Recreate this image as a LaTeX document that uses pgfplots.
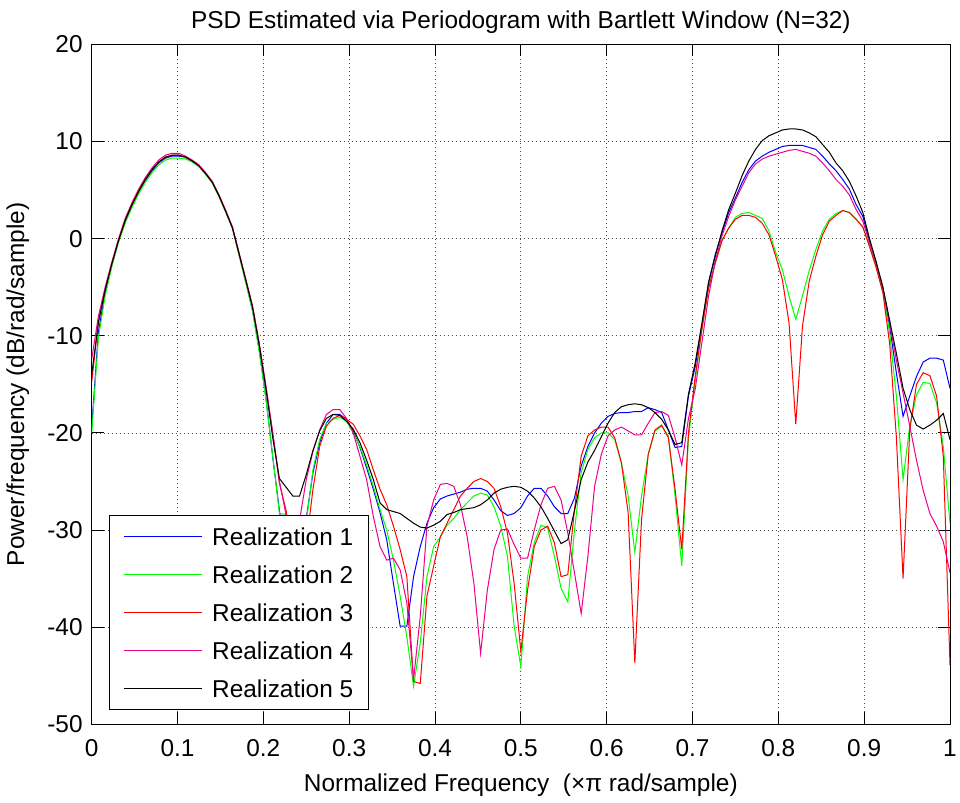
\documentclass[border=0pt]{standalone}
\usepackage{fontspec}
\setmainfont{Liberation Sans}
\usepackage{pgfplots}
\pgfplotsset{compat=1.18}
\usepackage{pgfplotstable}

\newcommand\mfont{\fontsize{12.2}{14.6}\selectfont}
% legend key: a coloured line sample followed by the entry text
\newcommand\key[2]{\textcolor{#1}{\rule[4.25pt]{39pt}{0.5pt}}\hspace{5pt}#2}

% PSD estimates (dB/rad/sample) on the grid f = k/128 (x pi rad/sample)
% columns: k, realizations 1..5
\pgfplotstableread{
k B G R M K
0 -19.5 -20.0 -14.8 -12.4 -14.0
1 -9.6 -10.2 -8.6 -8.0 -8.6
2 -5.6 -5.9 -5.3 -5.0 -5.3
3 -2.7 -2.9 -2.6 -2.4 -2.6
4 -0.2 -0.4 -0.2 0.0 -0.2
5 1.8 1.6 1.9 2.1 1.9
6 3.4 3.2 3.5 3.7 3.5
7 4.8 4.6 4.9 5.1 4.9
8 6.0 5.8 6.1 6.3 6.1
9 7.0 6.8 7.1 7.3 7.1
10 7.8 7.6 7.9 8.1 7.9
11 8.3 8.1 8.4 8.6 8.4
12 8.5 8.3 8.6 8.8 8.6
13 8.5 8.3 8.6 8.8 8.6
14 8.4 8.2 8.4 8.5 8.4
15 8.0 7.9 8.0 8.1 8.0
16 7.5 7.4 7.5 7.6 7.5
17 6.7 6.6 6.7 6.8 6.7
18 5.8 5.7 5.8 5.9 5.8
19 4.4 4.3 4.4 4.5 4.4
20 2.8 2.7 2.8 2.9 2.8
21 1.1 1.0 1.1 1.2 1.1
22 -1.7 -1.8 -1.6 -1.5 -1.6
23 -4.5 -4.6 -4.3 -4.2 -4.3
24 -7.4 -7.5 -7.0 -7.0 -7.1
25 -11.5 -11.7 -10.9 -10.8 -11.0
26 -16.5 -16.6 -15.5 -15.2 -15.5
27 -22.5 -22.4 -20.0 -20.0 -20.5
28 -28.0 -28.3 -25.2 -25.0 -24.7
29 -33.0 -28.4 -28.0 -28.5 -25.6
30 -38.0 -34.0 -33.0 -33.0 -26.5
31 -36.0 -36.0 -36.0 -29.0 -26.5
32 -28.8 -29.2 -31.5 -24.8 -24.3
33 -24.1 -23.8 -25.8 -21.9 -21.8
34 -21.0 -20.7 -21.4 -19.7 -19.8
35 -19.0 -19.0 -19.3 -18.1 -18.5
36 -18.1 -18.6 -18.5 -17.6 -18.1
37 -18.1 -18.4 -18.2 -17.6 -18.2
38 -18.6 -18.8 -18.6 -18.5 -18.8
39 -19.8 -20.0 -19.1 -20.0 -19.6
40 -21.5 -21.4 -20.3 -22.4 -21.0
41 -23.6 -23.3 -21.7 -24.8 -22.8
42 -25.8 -25.5 -23.8 -28.6 -24.8
43 -28.2 -27.9 -25.8 -31.7 -27.2
44 -31.0 -30.0 -27.4 -33.1 -27.9
45 -35.5 -33.1 -29.6 -32.9 -28.1
46 -39.9 -36.8 -32.0 -34.1 -28.3
47 -39.9 -41.0 -34.8 -37.5 -28.8
48 -34.8 -46.1 -45.6 -45.4 -29.3
49 -31.7 -41.6 -45.8 -38.9 -29.7
50 -29.3 -34.8 -36.8 -29.6 -29.8
51 -27.7 -31.7 -33.7 -26.9 -29.5
52 -26.8 -30.7 -30.7 -25.3 -29.1
53 -26.5 -29.5 -29.3 -25.2 -28.4
54 -26.3 -28.8 -27.9 -25.5 -28.2
55 -26.1 -27.9 -26.5 -27.4 -27.9
56 -25.8 -27.2 -25.7 -30.7 -27.8
57 -25.7 -26.5 -25.0 -35.5 -27.7
58 -25.7 -26.2 -24.7 -42.7 -27.4
59 -26.0 -26.4 -25.0 -36.2 -26.9
60 -26.9 -27.6 -25.7 -32.0 -26.2
61 -28.0 -29.6 -27.6 -30.0 -25.8
62 -28.5 -32.7 -30.3 -29.9 -25.6
63 -28.3 -39.9 -35.5 -31.5 -25.5
64 -27.7 -44.1 -42.5 -32.9 -25.6
65 -26.5 -34.8 -36.2 -32.9 -26.0
66 -25.7 -31.3 -31.7 -30.0 -26.7
67 -25.7 -29.5 -30.0 -27.4 -27.6
68 -26.5 -29.8 -29.6 -25.7 -28.8
69 -27.6 -32.7 -31.3 -25.5 -30.1
70 -28.3 -36.0 -34.8 -26.9 -31.4
71 -28.3 -37.4 -34.6 -30.3 -31.0
72 -26.7 -30.0 -27.9 -34.4 -28.0
73 -23.4 -24.1 -22.4 -38.6 -24.8
74 -21.4 -21.7 -20.3 -32.7 -23.0
75 -20.0 -20.5 -19.7 -25.5 -21.8
76 -19.0 -20.0 -19.4 -22.2 -20.4
77 -18.3 -20.0 -19.4 -20.3 -19.0
78 -18.0 -20.7 -20.5 -19.7 -17.9
79 -17.9 -23.1 -23.1 -19.4 -17.3
80 -17.9 -26.5 -28.2 -19.8 -17.1
81 -17.8 -32.3 -43.7 -20.2 -17.0
82 -17.8 -26.5 -28.9 -20.2 -17.1
83 -17.4 -22.2 -22.2 -19.0 -17.4
84 -17.6 -19.8 -19.7 -17.9 -17.9
85 -17.9 -19.3 -19.2 -17.8 -18.6
86 -19.7 -20.3 -20.5 -18.2 -19.7
87 -21.5 -26.5 -25.8 -20.5 -21.2
88 -21.4 -33.7 -32.0 -23.3 -21.0
89 -16.2 -20.5 -20.0 -18.5 -16.0
90 -13.2 -14.6 -14.2 -15.5 -12.8
91 -9.0 -9.3 -9.3 -10.7 -8.7
92 -4.5 -4.9 -5.1 -5.9 -4.5
93 -1.6 -2.5 -2.5 -2.3 -1.8
94 0.6 -0.2 -0.2 0.3 0.8
95 2.7 1.1 1.1 2.3 3.0
96 4.2 2.2 2.0 4.0 4.7
97 5.8 2.6 2.4 5.4 6.5
98 7.1 2.7 2.4 6.8 8.0
99 8.0 2.4 2.2 7.7 9.2
100 8.5 2.1 1.6 8.2 10.1
101 8.9 0.8 0.4 8.5 10.6
102 9.2 -1.4 -1.8 8.7 10.9
103 9.5 -3.2 -4.2 8.9 11.2
104 9.6 -5.9 -8.7 9.1 11.3
105 9.6 -8.3 -19.1 9.2 11.3
106 9.6 -5.9 -9.0 9.0 11.2
107 9.4 -3.3 -4.4 8.8 10.9
108 9.2 -1.1 -1.8 8.5 10.5
109 8.5 0.8 0.4 7.8 9.7
110 7.7 2.0 1.8 7.0 8.9
111 7.0 2.6 2.4 6.1 7.8
112 6.1 2.9 2.9 5.4 7.0
113 5.1 2.7 2.7 4.5 5.9
114 3.5 2.0 2.0 3.0 4.4
115 2.3 1.2 1.2 1.8 2.7
116 -0.3 -0.8 -0.8 -0.4 0.0
117 -2.6 -2.9 -3.0 -2.5 -2.4
118 -5.3 -5.4 -5.6 -5.1 -5.0
119 -9.0 -9.7 -10.8 -8.7 -8.4
120 -13.8 -16.2 -20.4 -12.5 -11.8
121 -18.3 -24.8 -35.0 -15.9 -15.4
122 -16.2 -19.3 -19.7 -19.3 -17.6
123 -14.2 -16.1 -15.0 -22.8 -19.2
124 -12.7 -14.8 -13.8 -25.9 -19.6
125 -12.3 -14.9 -14.1 -28.3 -19.2
126 -12.3 -16.9 -16.2 -29.6 -18.7
127 -12.5 -21.4 -22.4 -31.2 -18.0
128 -15.4 -29.3 -43.9 -34.4 -20.7
}\psd

\begin{document}
\begin{tikzpicture}
\useasboundingbox (-45.85pt,-39.35pt) rectangle (434.2pt,362.15pt);
\begin{axis}[
  scale only axis,
  width=429.2pt, height=339.9pt,
  xmin=0, xmax=1, ymin=-50, ymax=20,
  xtick={0,0.1,0.2,0.3,0.4,0.5,0.6,0.7,0.8,0.9,1},
  xticklabels={0,0.1,0.2,0.3,0.4,0.5,0.6,0.7,0.8,0.9,1},
  ytick={-50,-40,-30,-20,-10,0,10,20},
  yticklabels={-50,-40,-30,-20,-10,0,10,20},
  tick align=inside,
  major tick length=6pt,
  tick style={black, line width=0.5pt},
  axis line style={black, line width=0.5pt},
  grid=major,
  grid style={black!70, line width=0.4pt, dash pattern=on 0.8pt off 1.2pt},
  every tick label/.append style={font=\mfont},
  xticklabel style={yshift=-4pt},
  yticklabel style={xshift=-1pt},
  title={PSD Estimated via Periodogram with Bartlett Window (N=32)},
  title style={font=\mfont, at={(axis description cs:0.5,1)}, anchor=base, yshift=2pt},
  xlabel={Normalized Frequency\ \ (×π rad/sample)},
  ylabel={Power/frequency (dB/rad/sample)},
  every axis x label/.style={at={(axis description cs:0.5,0)}, anchor=base, yshift=-33.4pt, font=\mfont},
  every axis y label/.style={at={(axis description cs:-0.0862,0.5)}, rotate=90, anchor=center, font=\mfont},
  legend cell align=left,
  legend image code/.code={},
  legend style={at={(axis description cs:0.0198,0.0212)}, anchor=south west,
    draw=black, line width=0.5pt, fill=white, font=\mfont,
    inner xsep=4.5pt, inner ysep=3pt, row sep=4pt,
    nodes={inner sep=3pt, text height=9pt, text depth=0pt}},
]
\addplot[draw=blue, line width=0.5pt] table[x expr=\thisrow{k}/128, y=B]{\psd};
\addlegendentry{\key{blue}{Realization 1}}
\addplot[draw=green, line width=0.5pt] table[x expr=\thisrow{k}/128, y=G]{\psd};
\addlegendentry{\key{green}{Realization 2}}
\addplot[draw=red, line width=0.5pt] table[x expr=\thisrow{k}/128, y=R]{\psd};
\addlegendentry{\key{red}{Realization 3}}
\addplot[draw=magenta, line width=0.5pt] table[x expr=\thisrow{k}/128, y=M]{\psd};
\addlegendentry{\key{magenta}{Realization 4}}
\addplot[draw=black, line width=0.5pt] table[x expr=\thisrow{k}/128, y=K]{\psd};
\addlegendentry{\key{black}{Realization 5}}
\end{axis}
\end{tikzpicture}
\end{document}
